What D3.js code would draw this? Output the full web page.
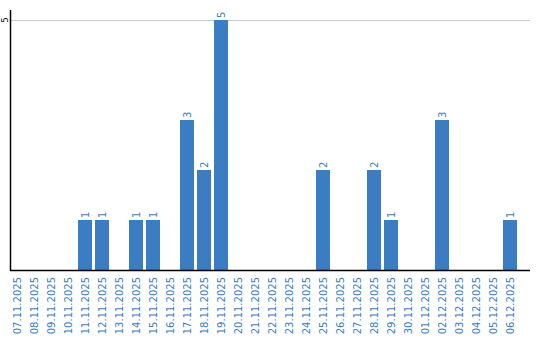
<!DOCTYPE html>
<html>
<head>
<meta charset="utf-8">
<script src="https://cdn.jsdelivr.net/npm/d3@7"></script>
<style>
  body { margin: 0; background: #fff; }
  text { font-family: "DejaVu Sans", Verdana, sans-serif; }
</style>
</head>
<body>
<script>
const dates = ['07.11.2025','08.11.2025','09.11.2025','10.11.2025','11.11.2025','12.11.2025',
  '13.11.2025','14.11.2025','15.11.2025','16.11.2025','17.11.2025','18.11.2025','19.11.2025',
  '20.11.2025','21.11.2025','22.11.2025','23.11.2025','24.11.2025','25.11.2025','26.11.2025',
  '27.11.2025','28.11.2025','29.11.2025','30.11.2025','01.12.2025','02.12.2025','03.12.2025',
  '04.12.2025','05.12.2025','06.12.2025'];
const counts = [0,0,0,0,1,1,0,1,1,0,3,2,5,0,0,0,0,0,2,0,0,2,1,0,0,3,0,0,0,1];
const yTicks = [5];

const W = 540, H = 340;
const blue = '#3b7dc3';

const svg = d3.select('body').append('svg')
  .attr('width', W).attr('height', H);

const x = d3.scaleBand()
  .domain(dates)
  .range([8.5, 518.5])
  .paddingInner(0.176)
  .paddingOuter(0.088);

const y = d3.scaleLinear().domain([0, 5]).range([270, 20]);

// gridline
svg.selectAll('.grid').data(yTicks).enter().append('line')
  .attr('x1', 10).attr('x2', 530)
  .attr('y1', d => y(d) + 0.5).attr('y2', d => y(d) + 0.5)
  .attr('stroke', '#cccccc');

// y tick labels
svg.selectAll('.ytick').data(yTicks).enter().append('text')
  .attr('transform', d => `translate(8,${y(d)}) rotate(-90)`)
  .attr('text-anchor', 'middle')
  .attr('font-size', 8)
  .attr('fill', '#000')
  .text(d => d);

// bars
const data = dates.map((d, i) => ({ date: d, v: counts[i] }));
svg.selectAll('.bar').data(data.filter(d => d.v > 0)).enter().append('rect')
  .attr('x', d => x(d.date))
  .attr('y', d => y(d.v))
  .attr('width', x.bandwidth())
  .attr('height', d => y(0) - y(d.v))
  .attr('fill', blue);

// value labels
svg.selectAll('.val').data(data.filter(d => d.v > 0)).enter().append('text')
  .attr('transform', d => `translate(${x(d.date) + x.bandwidth() / 2 + 3.5},${y(d.v) - 2}) rotate(-90)`)
  .attr('font-size', 10)
  .attr('fill', blue)
  .text(d => d.v);

// axes lines
svg.append('line')
  .attr('x1', 10.5).attr('x2', 10.5).attr('y1', 10).attr('y2', 271)
  .attr('stroke', '#000').attr('stroke-width', 1.5);
svg.append('line')
  .attr('x1', 10).attr('x2', 530).attr('y1', 270.5).attr('y2', 270.5)
  .attr('stroke', '#000').attr('stroke-width', 1.5);

// category labels
svg.selectAll('.xl').data(dates).enter().append('text')
  .attr('transform', d => `translate(${x(d) + x.bandwidth() / 2 + 3.5},277) rotate(-90)`)
  .attr('text-anchor', 'end')
  .attr('font-size', 10)
  .attr('fill', blue)
  .text(d => d);
</script>
</body>
</html>
